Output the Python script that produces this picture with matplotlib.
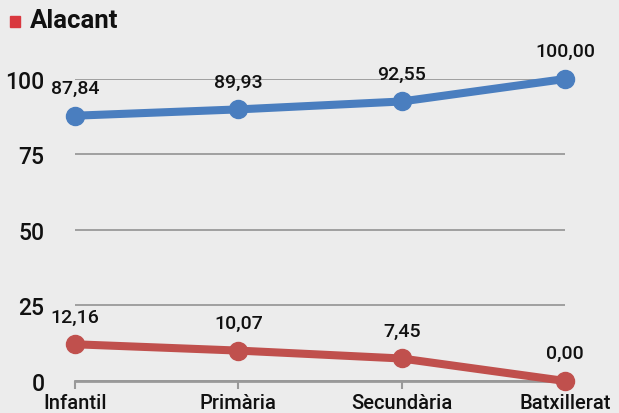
import matplotlib.pyplot as plt
from matplotlib.patches import Rectangle

# dades
categories = ["Infantil", "Primària", "Secundària", "Batxillerat"]
blue_values = [87.84, 89.93, 92.55, 100.00]
red_values = [12.16, 10.07, 7.45, 0.00]
yticks = [0, 25, 50, 75, 100]
title = "Alacant"

bg = "#ececec"
blue = "#4a7ebf"
red = "#c0504d"
plt.rcParams["font.family"] = ["Roboto", "DejaVu Sans"]
plt.rcParams["font.weight"] = "medium"

fig = plt.figure(figsize=(6.19, 4.14), dpi=100, facecolor=bg)
ax = fig.add_axes([0.1212, 0.0773, 0.7916, 0.7295], facecolor=bg)

x = list(range(len(categories)))
for vals, col in [(blue_values, blue), (red_values, red)]:
    ax.plot(x, vals, color=col, linewidth=5.8, marker="o", markersize=13,
            solid_capstyle="round", clip_on=False, zorder=3)
    for xi, v in zip(x, vals):
        ax.annotate(f"{v:.2f}".replace(".", ","), (xi, v), xytext=(0, 20),
                    textcoords="offset points", ha="center", va="center",
                    fontsize=14, color="#111111", zorder=4)

ax.set_xlim(0, 3)
ax.set_ylim(0, 100)
ax.set_yticks(yticks)
ax.set_yticklabels([str(t) for t in yticks], fontsize=16.5, color="#111111")
ax.set_xticks(x)
ax.set_xticklabels(categories, fontsize=14.5, color="#111111")
ax.grid(axis="y", color="#999999", linewidth=1.3)
ax.set_axisbelow(True)
ax.tick_params(axis="y", length=0, pad=22)
ax.tick_params(axis="x", length=6, width=1.5, color="#999999", pad=3)
for s in ["top", "right", "left"]:
    ax.spines[s].set_visible(False)
ax.spines["bottom"].set_color("#999999")
ax.spines["bottom"].set_linewidth(2)

# títol amb quadrat vermell
fig.patches.append(Rectangle((10 / 619, 1 - 28 / 414), 10 / 619, 11 / 414,
                             transform=fig.transFigure, color="#d9383f"))
fig.text(30 / 619, 1 - 21 / 414, title, fontsize=18.5, fontweight="bold",
         va="center", ha="left", color="#111111")

plt.savefig("out.png", dpi=100, facecolor=bg)
